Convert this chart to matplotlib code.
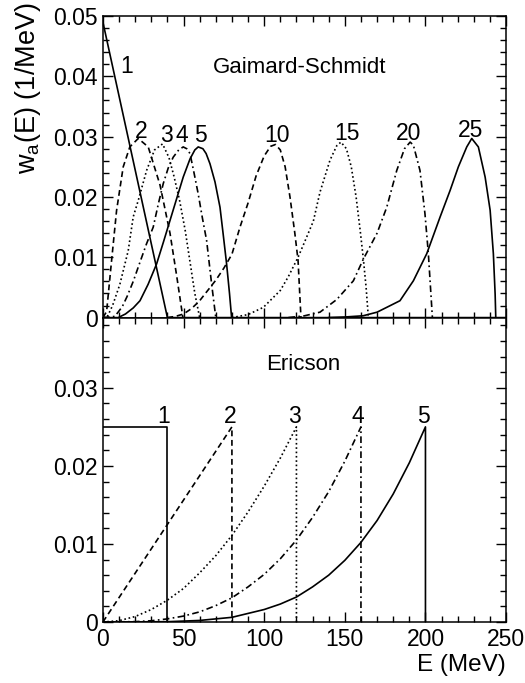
import matplotlib.pyplot as plt
from matplotlib.ticker import MultipleLocator, FixedLocator

plt.rcParams['font.family'] = ['Liberation Sans', 'DejaVu Sans']

# ---- Gaimard-Schmidt (top panel) ----
gs_e1 = [0, 40, 250]
gs_w1 = [0.049, 0.0, 0.0]

gs_e2 = [0, 2.3, 5.4, 8.5, 12.6, 16.7, 21.9, 28.1, 35.4, 41.6, 45.7, 49.6]
gs_w2 = [0, 0.001, 0.0095, 0.0178, 0.025, 0.0283, 0.0297, 0.0283, 0.0220, 0.0140, 0.0070, 0]

gs_e3 = [0, 3, 6, 10.5, 15.7, 18.8, 22, 27.1, 32, 37, 41, 44, 47.5, 51, 53, 55, 57, 60]
gs_w3 = [0, 0.0003, 0.002, 0.0055, 0.0111, 0.0167, 0.0195, 0.0244, 0.0278, 0.0288, 0.0265, 0.0235, 0.0195, 0.0145, 0.011, 0.0075, 0.004, 0]

gs_e4 = [0, 7.4, 12, 15, 18.8, 23, 27, 31.2, 34.5, 37.4, 40.5, 43.6, 47, 49.8, 52, 54, 56.5, 59.1, 61.7, 64.3, 67.4, 70]
gs_w4 = [0, 0.0002, 0.0018, 0.0035, 0.006, 0.0092, 0.0122, 0.015, 0.019, 0.0222, 0.0248, 0.0266, 0.0278, 0.0283, 0.0280, 0.0272, 0.024, 0.0205, 0.0165, 0.0128, 0.0056, 0]

gs_e5 = [0, 9.5, 14, 18.8, 23, 28, 33.3, 37.5, 41.6, 45.7, 49.8, 54, 57, 59.1, 62, 64, 66.4, 69.5, 72.6, 74.5, 76.7, 78.5, 79.8]
gs_w5 = [0, 0, 0.0006, 0.0016, 0.0028, 0.0055, 0.0089, 0.0125, 0.0161, 0.0197, 0.0233, 0.0263, 0.0278, 0.0283, 0.0280, 0.0272, 0.0255, 0.0225, 0.0183, 0.014, 0.0089, 0.004, 0]

gs_e10 = [40, 45, 50, 55, 60, 65, 70, 75, 80, 85, 90, 95, 100, 104, 107, 110, 113, 116, 119, 121, 122.8]
gs_w10 = [0, 0.0002, 0.0006, 0.0015, 0.0028, 0.0045, 0.0062, 0.0082, 0.0105, 0.0150, 0.019, 0.0235, 0.0268, 0.0284, 0.0287, 0.0278, 0.0250, 0.0200, 0.0140, 0.0095, 0]

gs_e15 = [80, 90, 99.5, 110, 115, 121, 125, 130.5, 134.6, 140.8, 145, 147.6, 151, 154, 157, 159.5, 161.5, 163.2, 164.6]
gs_w15 = [0, 0.0005, 0.0017, 0.0045, 0.0068, 0.010, 0.0125, 0.016, 0.0208, 0.0261, 0.0285, 0.0291, 0.0280, 0.0250, 0.0200, 0.0145, 0.0097, 0.005, 0]

gs_e20 = [115, 125, 134.6, 145, 155.3, 161.5, 170, 176, 182.2, 187, 190.5, 192.5, 196.6, 199.7, 201.8, 203.9, 204.3]
gs_w20 = [0, 0.0003, 0.0009, 0.0030, 0.0061, 0.0097, 0.0140, 0.0183, 0.0244, 0.0280, 0.0291, 0.0286, 0.0244, 0.0172, 0.0106, 0.0017, 0]

gs_e25 = [140, 150, 161.3, 170, 176, 184.2, 192.5, 200.8, 209.1, 215.3, 220.4, 225.6, 228.7, 232.8, 237, 240.1, 242.1, 243.2, 243.6]
gs_w25 = [0, 0.0001, 0.0003, 0.0009, 0.0017, 0.0028, 0.0061, 0.0106, 0.0167, 0.0211, 0.0250, 0.0283, 0.0297, 0.0283, 0.0233, 0.0178, 0.0106, 0.0039, 0]

gs_labels = ['1', '2', '3', '4', '5', '10', '15', '20', '25']
gs_label_e = [14.7, 24, 39.5, 48.8, 60.2, 107.7, 151.2, 189.4, 227.7]
gs_label_w = [0.0416, 0.0308, 0.0302, 0.0302, 0.0302, 0.0302, 0.0305, 0.0305, 0.0310]

# ---- Ericson (bottom panel) ----
er_e1 = [0, 40, 40]
er_w1 = [0.025, 0.025, 0]

er_e2 = [0, 80, 80]
er_w2 = [0, 0.025, 0]

er_e3 = [0, 10, 20, 30, 40, 50, 60, 70, 80, 90, 100, 110, 120, 120]
er_w3 = [0, 0.00017, 0.0007, 0.0016, 0.0028, 0.0043, 0.0063, 0.0085, 0.0111, 0.0141, 0.0174, 0.0210, 0.025, 0]

er_e4 = [0, 20, 30, 40, 50, 60, 70, 80, 90, 100, 110, 120, 130, 140, 150, 160, 160]
er_w4 = [0, 0.00005, 0.00016, 0.0004, 0.00076, 0.0013, 0.0021, 0.0031, 0.0045, 0.0061, 0.0081, 0.0105, 0.0134, 0.0167, 0.0206, 0.025, 0]

er_e5 = [0, 40, 60, 80, 100, 110, 120, 130, 140, 150, 160, 170, 180, 190, 200, 200]
er_w5 = [0, 0.00004, 0.0002, 0.0006, 0.0016, 0.0023, 0.0032, 0.0045, 0.0060, 0.0079, 0.0102, 0.0130, 0.0164, 0.0204, 0.025, 0]

er_labels = ['1', '2', '3', '4', '5']
er_label_e = [37.5, 78.8, 119, 158, 198.7]
er_label_w = [0.0263, 0.0263, 0.0263, 0.0263, 0.0263]

solid = '-'
dashed = (0, (3.5, 2.2))
dotted = (0, (1, 1.6))
dashdot = (0, (4, 2, 1, 2))

fig = plt.figure(figsize=(5.25, 6.83), dpi=100)
ax1 = fig.add_axes([0.196, 0.535, 0.768, 0.4415])
ax2 = fig.add_axes([0.196, 0.0893, 0.768, 0.4457])

lw = 1.2
top_series = [(gs_e1, gs_w1, solid), (gs_e2, gs_w2, dashed), (gs_e3, gs_w3, dotted),
              (gs_e4, gs_w4, dashdot), (gs_e5, gs_w5, solid), (gs_e10, gs_w10, dashed),
              (gs_e15, gs_w15, dotted), (gs_e20, gs_w20, dashdot), (gs_e25, gs_w25, solid)]
for e, w, ls in top_series:
    ax1.plot(e, w, color='black', lw=lw, linestyle=ls)

bot_series = [(er_e1, er_w1, solid), (er_e2, er_w2, dashed), (er_e3, er_w3, dotted),
              (er_e4, er_w4, dashdot), (er_e5, er_w5, solid)]
for e, w, ls in bot_series:
    ax2.plot(e, w, color='black', lw=lw, linestyle=ls)

for lab, x, y in zip(gs_labels, gs_label_e, gs_label_w):
    ax1.text(x, y, lab, fontsize=16.5, ha='center', va='center')
for lab, x, y in zip(er_labels, er_label_e, er_label_w):
    ax2.text(x, y, lab, fontsize=16.5, ha='center', va='center')

ax1.text(122, 0.0415, 'Gaimard-Schmidt', fontsize=16, ha='center', va='center')
ax2.text(101, 0.033, 'Ericson', fontsize=16, ha='left', va='center')

ax1.set_xlim(0, 250)
ax1.set_ylim(0, 0.05)
ax2.set_xlim(0, 250)
ax2.set_ylim(0, 0.039)

for ax in (ax1, ax2):
    ax.xaxis.set_major_locator(MultipleLocator(50))
    ax.xaxis.set_minor_locator(MultipleLocator(10))
    ax.yaxis.set_minor_locator(MultipleLocator(0.002))
    ax.tick_params(which='both', direction='in', top=True, right=True, labelsize=16.5, width=1)
    ax.tick_params(which='major', length=7)
    ax.tick_params(which='minor', length=4)
    for s in ax.spines.values():
        s.set_linewidth(1.1)

ax1.yaxis.set_major_locator(FixedLocator([0, 0.01, 0.02, 0.03, 0.04, 0.05]))
ax1.set_yticklabels(['0', '0.01', '0.02', '0.03', '0.04', '0.05'])
ax1.tick_params(labelbottom=False)
ax2.yaxis.set_major_locator(FixedLocator([0, 0.01, 0.02, 0.03]))
ax2.set_yticklabels(['0', '0.01', '0.02', '0.03'])
ax2.set_xticks([0, 50, 100, 150, 200, 250])
ax2.set_xticklabels(['0', '50', '100', '150', '200', '250'])
ax2.tick_params(axis='x', which='major', pad=4)

fig.text(0.964, 0.026, 'E (MeV)', fontsize=17.5, ha='right', va='center')
fig.text(0.053, 0.996, r'w$_\mathregular{a}$(E) (1/MeV)', fontsize=19.5, rotation=90, ha='center', va='top')

fig.savefig('out.png', dpi=100)
